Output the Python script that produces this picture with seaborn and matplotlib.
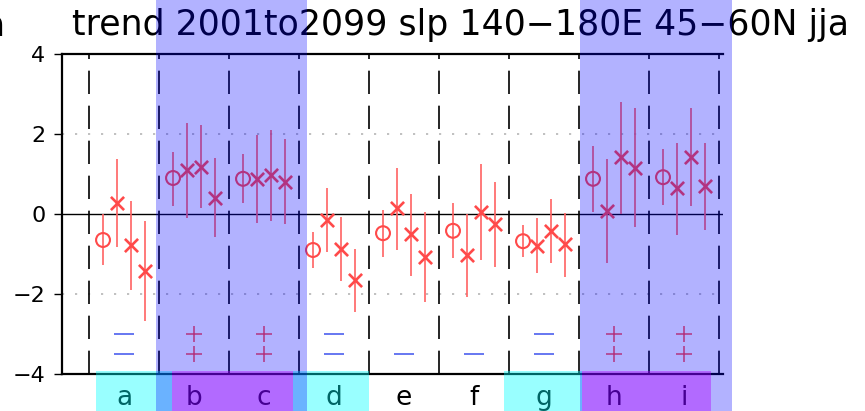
import numpy as np
import pandas as pd
import matplotlib
matplotlib.use("Agg")
import matplotlib.pyplot as plt
import seaborn as sns
from matplotlib.patches import Rectangle
from matplotlib.transforms import blended_transform_factory

# Regions (one per column) and the four estimates per region:
# observed trend (circle) and three model trends (crosses), with 5-95% ranges.
regions = list("abcdefghi")
series = ["obs", "m1", "m2", "m3"]

obs_val = [-0.65, 0.90, 0.88, -0.90, -0.48, -0.42, -0.68, 0.88, 0.92]
obs_lo = [-1.28, 0.20, 0.27, -1.35, -1.07, -1.10, -1.08, 0.05, 0.22]
obs_hi = [0.00, 1.55, 1.50, -0.45, 0.10, 0.27, -0.28, 1.70, 1.62]

m1_val = [0.27, 1.10, 0.87, -0.15, 0.15, -1.03, -0.80, 0.07, 0.65]
m1_lo = [-0.82, -0.10, -0.23, -0.95, -0.90, -2.07, -1.48, -1.22, -0.52]
m1_hi = [1.37, 2.27, 1.97, 0.65, 1.15, 0.00, -0.10, 1.37, 1.77]

m2_val = [-0.78, 1.18, 0.97, -0.88, -0.50, 0.05, -0.43, 1.42, 1.43]
m2_lo = [-1.90, 0.15, -0.17, -1.68, -1.55, -1.15, -1.23, 0.00, 0.20]
m2_hi = [0.33, 2.22, 2.10, -0.08, 0.50, 1.25, 0.37, 2.80, 2.65]

m3_val = [-1.43, 0.40, 0.81, -1.65, -1.08, -0.25, -0.75, 1.15, 0.70]
m3_lo = [-2.68, -0.58, -0.25, -2.45, -2.20, -1.32, -1.57, -0.32, -0.40]
m3_hi = [-0.17, 1.40, 1.88, -0.88, 0.05, 0.80, 0.02, 2.65, 1.77]

# Significance flags for the two test rows ("+" positive, "-" negative, "" none)
sig_row1 = ["-", "+", "+", "-", "", "", "-", "+", "+"]
sig_row2 = ["-", "+", "+", "-", "-", "-", "-", "+", "+"]
sig_levels = [-3.0, -3.5]

y_ticks = [-4, -2, 0, 2, 4]
title = "trend 2001to2099 slp 140\u2212180E 45\u221260N jja"

# ---- long-form table ----
vals = {"obs": obs_val, "m1": m1_val, "m2": m2_val, "m3": m3_val}
los = {"obs": obs_lo, "m1": m1_lo, "m2": m2_lo, "m3": m3_lo}
his = {"obs": obs_hi, "m1": m1_hi, "m2": m2_hi, "m3": m3_hi}
offsets = dict(zip(series, [-0.3, -0.1, 0.1, 0.3]))
rows = []
for i, r in enumerate(regions):
    for s in series:
        rows.append(dict(region=r, series=s, x=i + offsets[s],
                         value=vals[s][i], lo=los[s][i], hi=his[s][i]))
df = pd.DataFrame(rows)

sig_rows = []
for level, flags in zip(sig_levels, [sig_row1, sig_row2]):
    for i, f in enumerate(flags):
        if f:
            sig_rows.append(dict(x=i, y=level, sign=f))
sig = pd.DataFrame(sig_rows)

# ---- figure ----
sns.set_theme(style="white")
plt.rcParams["font.family"] = ["DejaVu Sans"]

W, H = 865, 411
fig = plt.figure(figsize=(W / 100, H / 100), dpi=100)
ax = fig.add_axes([62 / W, 37 / H, 661 / W, 320 / H])

red = "#ff4a4a"
bar_red = "#ff6262"
blue = "#5a6cf0"

# range bars
ax.vlines(df["x"], df["lo"], df["hi"], color=bar_red, lw=1.2, zorder=3)

# observed: hollow circles
sns.scatterplot(data=df[df["series"] == "obs"], x="x", y="value", ax=ax,
                marker="o", s=100, facecolors="none", edgecolor=red,
                linewidth=1.5, zorder=4, legend=False)
# models: crosses
sns.scatterplot(data=df[df["series"] != "obs"], x="x", y="value", ax=ax,
                marker="x", s=90, color=red, linewidth=1.9, zorder=4,
                legend=False)

# significance symbols
sns.scatterplot(data=sig[sig["sign"] == "-"], x="x", y="y", ax=ax,
                marker="_", s=220, color=blue, linewidth=1.3, zorder=4,
                legend=False)
sns.scatterplot(data=sig[sig["sign"] == "+"], x="x", y="y", ax=ax,
                marker="+", s=145, color=red, linewidth=1.1, zorder=4,
                legend=False)

# region separators
for b in np.arange(len(regions) + 1) - 0.5:
    ax.axvline(b, color="black", lw=1.2, ls=(0, (14, 7)), zorder=2)

# reference lines
ax.axhline(0, color="black", lw=1.0, zorder=2)
for yv in (-2, 2):
    ax.axhline(yv, color="#bbbbbb", lw=1.3, ls=(0, (1.2, 6)), zorder=1)

ax.set_xlim(-0.886, 8.557)
ax.set_ylim(-4, 4)
ax.set_yticks(y_ticks)
ax.set_yticklabels([f"{t}".replace("-", "\u2212") for t in y_ticks],
                   fontsize=16)
ax.set_xticks([])
ax.set_xlabel("")
ax.set_ylabel("")
ax.tick_params(axis="y", which="both", direction="out", length=6, width=1.0,
               left=True, pad=6, colors="black")
for side in ("left", "top", "bottom"):
    ax.spines[side].set_color("black")
    ax.spines[side].set_linewidth(1.6)
ax.spines["right"].set_visible(False)

# title and the clipped label at the left edge
fig.text(72 / W, 1 - 35 / H, title, fontsize=25, ha="left", va="baseline",
         color="black", zorder=3)
fig.text(5.5 / W, 1 - 35 / H, "a", fontsize=25, ha="right", va="baseline",
         color="black", zorder=3)

# region letters under the axis
bt = blended_transform_factory(ax.transData, fig.transFigure)
for i, r in enumerate(regions):
    fig.text(i, 6 / H, r, transform=bt, fontsize=19, ha="center",
             va="baseline", color="black", zorder=3)

# coloured label boxes
label_boxes = [(-0.40, 0.686, "#00ffff"), (0.686, 2.414, "#ff00ff"),
               (2.414, 3.50, "#00ffff"), (5.43, 6.54, "#00ffff"),
               (6.54, 8.386, "#ff00ff")]
for x0, x1, c in label_boxes:
    fig.add_artist(Rectangle((x0, 0), x1 - x0, 40 / H, transform=bt,
                             facecolor=c, edgecolor="none", alpha=0.4,
                             zorder=4))

# highlighted region columns
shade_spans = [(0.457, 2.614), (6.514, 8.686)]
for x0, x1 in shade_spans:
    fig.add_artist(Rectangle((x0, 0), x1 - x0, 1, transform=bt,
                             facecolor="#0000ff", edgecolor="none",
                             alpha=0.3, zorder=5))

fig.savefig("out.png", dpi=100)
